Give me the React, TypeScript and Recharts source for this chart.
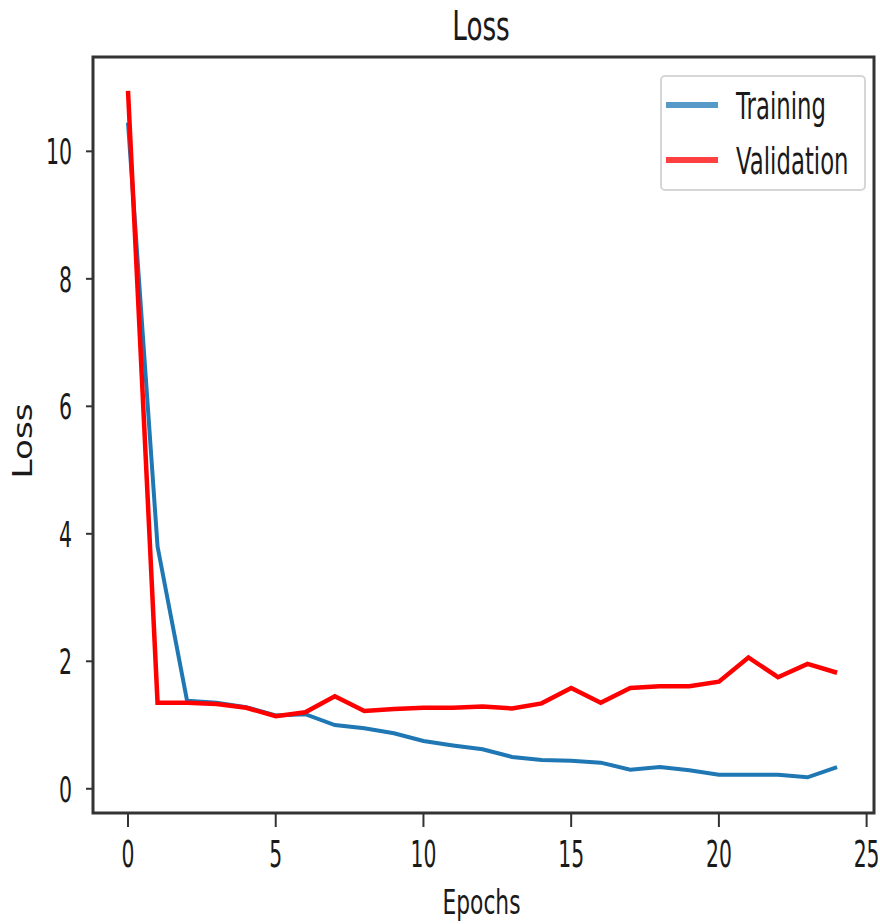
import { LineChart, Line, XAxis, YAxis, Legend, ReferenceArea, Label } from 'recharts';

const epochs = [0, 1, 2, 3, 4, 5, 6, 7, 8, 9, 10, 11, 12, 13, 14, 15, 16, 17, 18, 19, 20, 21, 22, 23, 24];
const training = [10.45, 3.8, 1.38, 1.35, 1.28, 1.15, 1.17, 1.0, 0.95, 0.87, 0.75, 0.68, 0.62, 0.5, 0.45, 0.44, 0.41, 0.3, 0.34, 0.29, 0.22, 0.22, 0.22, 0.18, 0.34];
const validation = [10.95, 1.35, 1.35, 1.33, 1.27, 1.14, 1.2, 1.45, 1.22, 1.25, 1.27, 1.27, 1.29, 1.26, 1.34, 1.58, 1.35, 1.58, 1.61, 1.61, 1.68, 2.06, 1.75, 1.96, 1.82];
const xTicks = [0, 5, 10, 15, 20, 25];
const yTicks = [0, 2, 4, 6, 8, 10];

const X_DOMAIN = [-1.185, 25.25];
const Y_DOMAIN = [-0.38, 11.48];
const FONT = 'DejaVu Sans';
const INK = '#1a1a1a';

const data = epochs.map((e, i) => ({ epoch: e, training: training[i], validation: validation[i] }));

function XTick(props: any) {
  const { x, y, payload } = props;
  return (
    <text transform={`translate(${x},${y + 38}) scale(0.55,1)`} textAnchor="middle" fontSize={37} fontFamily={FONT} fill={INK}>
      {payload.value}
    </text>
  );
}

function YTick(props: any) {
  const { x, y, payload } = props;
  return (
    <text transform={`translate(${x - 12},${y + 13}) scale(0.57,1)`} textAnchor="end" fontSize={36} fontFamily={FONT} fill={INK}>
      {payload.value}
    </text>
  );
}

function XLabel(props: any) {
  const { viewBox } = props;
  const cx = viewBox.x + viewBox.width / 2 - 2;
  return (
    <text transform={`translate(${cx},914) scale(0.64,1)`} textAnchor="middle" fontSize={34} fontFamily={FONT} fill={INK}>
      Epochs
    </text>
  );
}

function YLabel(props: any) {
  const { viewBox } = props;
  const cy = viewBox.y + viewBox.height / 2 + 6;
  return (
    <text transform={`translate(32,${cy}) rotate(-90) scale(1.32,1)`} textAnchor="middle" fontSize={26} fontFamily={FONT} fill={INK}>
      Loss
    </text>
  );
}

function LegendBox() {
  const rows = [
    { name: 'Training', color: '#1f77b4', y: 30 },
    { name: 'Validation', color: '#ff0000', y: 85 },
  ];
  return (
    <svg width={206} height={116} style={{ display: 'block' }}>
      <rect x={1} y={1} width={204} height={114} rx={4} fill="#fff" fillOpacity={0.8} stroke="#d6d6d6" strokeWidth={2} />
      {rows.map((r) => (
        <g key={r.name}>
          <line x1={6} x2={58} y1={r.y} y2={r.y} stroke={r.color} strokeOpacity={0.75} strokeWidth={6} />
          <text transform={`translate(76,${r.y + 14}) scale(0.6,1)`} fontSize={38} fontFamily={FONT} fill={INK}>
            {r.name}
          </text>
        </g>
      ))}
    </svg>
  );
}

export default function App() {
  return (
    <div style={{ position: 'absolute', left: 0, top: 0, width: 880, height: 924, background: '#fff' }}>
      <svg width={880} height={50} style={{ position: 'absolute', left: 0, top: 0 }}>
        <text transform="translate(481,40) scale(0.64,1)" textAnchor="middle" fontSize={41} fontFamily={FONT} fill={INK}>
          Loss
        </text>
      </svg>
      <div style={{ position: 'absolute', left: 0, top: 0 }}>
        <LineChart width={880} height={924} data={data} margin={{ top: 57, right: 6, left: 0, bottom: 0 }}>
          <XAxis
            dataKey="epoch"
            type="number"
            domain={X_DOMAIN}
            ticks={xTicks}
            allowDataOverflow
            height={111}
            axisLine={false}
            tickSize={14}
            tickLine={{ stroke: '#333', strokeWidth: 2 }}
            tick={<XTick />}
          >
            <Label content={<XLabel />} />
          </XAxis>
          <YAxis
            type="number"
            domain={Y_DOMAIN}
            ticks={yTicks}
            allowDataOverflow
            width={93}
            axisLine={false}
            tickSize={7}
            tickLine={{ stroke: '#333', strokeWidth: 2 }}
            tick={<YTick />}
          >
            <Label content={<YLabel />} />
          </YAxis>
          <ReferenceArea x1={X_DOMAIN[0]} x2={X_DOMAIN[1]} y1={Y_DOMAIN[0]} y2={Y_DOMAIN[1]} fill="none" stroke="#333" strokeWidth={3} />
          <Line type="linear" dataKey="training" name="Training" stroke="#1f77b4" strokeWidth={4} dot={false} isAnimationActive={false} />
          <Line type="linear" dataKey="validation" name="Validation" stroke="#ff0000" strokeWidth={4.5} dot={false} isAnimationActive={false} />
          <Legend
            layout="horizontal"
            verticalAlign="middle"
            align="center"
            content={<LegendBox />}
            wrapperStyle={{ position: 'absolute', left: 660, top: 75, width: 206, height: 116, right: 'auto', bottom: 'auto' }}
          />
        </LineChart>
      </div>
    </div>
  );
}
